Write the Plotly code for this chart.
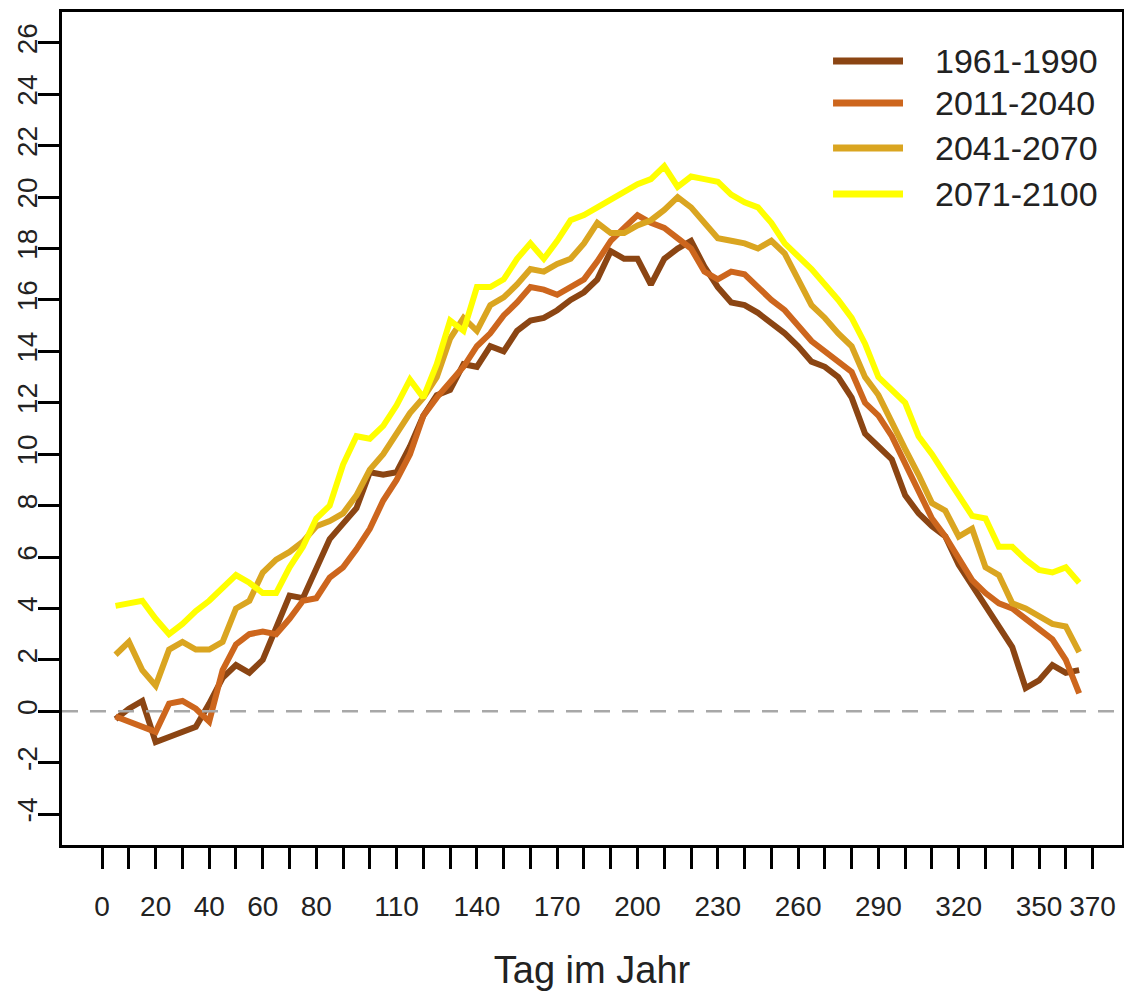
import plotly.graph_objects as go

# day of year (5-day steps)
days = list(range(5, 370, 5))

t_1961_1990 = [
    -0.3, 0.1, 0.4, -1.2, -1.0, -0.8, -0.6, 0.3, 1.3, 1.8, 1.5, 2.0, 3.3, 4.5, 4.4,
    5.6, 6.7, 7.3, 7.9, 9.3, 9.2, 9.3, 10.3, 11.5, 12.3, 12.5, 13.5, 13.4, 14.2, 14.0,
    14.8, 15.2, 15.3, 15.6, 16.0, 16.3, 16.8, 17.9, 17.6, 17.6, 16.6, 17.6, 18.0, 18.3,
    17.3, 16.5, 15.9, 15.8, 15.5, 15.1, 14.7, 14.2, 13.6, 13.4, 13.0, 12.2, 10.8, 10.3,
    9.8, 8.4, 7.7, 7.2, 6.8, 5.7, 4.9, 4.1, 3.3, 2.5, 0.9, 1.2, 1.8, 1.5, 1.6,
]
t_2011_2040 = [
    -0.2, -0.4, -0.6, -0.8, 0.3, 0.4, 0.1, -0.4, 1.6, 2.6, 3.0, 3.1, 3.0, 3.6, 4.3,
    4.4, 5.2, 5.6, 6.3, 7.1, 8.2, 9.0, 10.0, 11.5, 12.2, 12.8, 13.4, 14.2, 14.7, 15.4,
    15.9, 16.5, 16.4, 16.2, 16.5, 16.8, 17.5, 18.3, 18.8, 19.3, 19.0, 18.8, 18.4, 18.0,
    17.1, 16.8, 17.1, 17.0, 16.5, 16.0, 15.6, 15.0, 14.4, 14.0, 13.6, 13.2, 12.0, 11.5,
    10.7, 9.6, 8.5, 7.5, 6.8, 5.9, 5.1, 4.6, 4.2, 4.0, 3.6, 3.2, 2.8, 2.0, 0.7,
]
t_2041_2070 = [
    2.2, 2.7, 1.6, 1.0, 2.4, 2.7, 2.4, 2.4, 2.7, 4.0, 4.3, 5.4, 5.9, 6.2, 6.6,
    7.2, 7.4, 7.7, 8.4, 9.4, 10.0, 10.8, 11.6, 12.2, 13.0, 14.5, 15.3, 14.8, 15.8, 16.1,
    16.6, 17.2, 17.1, 17.4, 17.6, 18.2, 19.0, 18.6, 18.6, 18.9, 19.1, 19.5, 20.0, 19.6,
    19.0, 18.4, 18.3, 18.2, 18.0, 18.3, 17.8, 16.8, 15.8, 15.3, 14.7, 14.2, 13.0, 12.3,
    11.2, 10.2, 9.2, 8.1, 7.8, 6.8, 7.1, 5.6, 5.3, 4.2, 4.0, 3.7, 3.4, 3.3, 2.3,
]
t_2071_2100 = [
    4.1, 4.2, 4.3, 3.6, 3.0, 3.4, 3.9, 4.3, 4.8, 5.3, 5.0, 4.6, 4.6, 5.6, 6.4,
    7.5, 8.0, 9.6, 10.7, 10.6, 11.1, 11.9, 12.9, 12.2, 13.5, 15.2, 14.8, 16.5, 16.5, 16.8,
    17.6, 18.2, 17.6, 18.3, 19.1, 19.3, 19.6, 19.9, 20.2, 20.5, 20.7, 21.2, 20.4, 20.8,
    20.7, 20.6, 20.1, 19.8, 19.6, 19.0, 18.2, 17.7, 17.2, 16.6, 16.0, 15.3, 14.3, 13.0,
    12.5, 12.0, 10.7, 10.0, 9.2, 8.4, 7.6, 7.5, 6.4, 6.4, 5.9, 5.5, 5.4, 5.6, 5.0,
]

series = [
    ("1961-1990", t_1961_1990, "#8b4513"),
    ("2011-2040", t_2011_2040, "#cd661d"),
    ("2041-2070", t_2041_2070, "#daa520"),
    ("2071-2100", t_2071_2100, "#ffff00"),
]

x_ticks = list(range(0, 380, 10))
x_labels_shown = {0, 20, 40, 60, 80, 110, 140, 170, 200, 230, 260, 290, 320, 350, 370}
x_ticktext = [str(v) if v in x_labels_shown else "" for v in x_ticks]
y_ticks = list(range(-4, 28, 2))
y_ticktext = [str(v) for v in y_ticks]  # plain hyphen minus, like R

FONT = "Liberation Sans, Arial, sans-serif"

fig = go.Figure()

for name, vals, color in series:
    fig.add_trace(
        go.Scatter(
            x=days,
            y=vals,
            mode="lines",
            name=name,
            line={"color": color, "width": 6},
            showlegend=False,
        )
    )

# zero reference line
fig.add_hline(y=0, line_color="#a8a8a8", line_dash="16px,12px", line_width=2.5)

# legend drawn by hand so the line samples are long like the original
legend_y = [0.9412, 0.8908, 0.8367, 0.7815]
for (name, _, color), ly in zip(series, legend_y):
    fig.add_shape(
        type="line",
        xref="paper",
        yref="paper",
        x0=0.7274,
        x1=0.7934,
        y0=ly,
        y1=ly,
        line={"color": color, "width": 7},
    )
    fig.add_annotation(
        xref="paper",
        yref="paper",
        x=0.8217,
        y=ly,
        text=name,
        showarrow=False,
        xanchor="left",
        yanchor="middle",
        font={"family": FONT, "size": 34, "color": "#222222"},
    )

fig.update_layout(
    width=1124,
    height=995,
    margin={"l": 62, "r": 2, "t": 12, "b": 150, "autoexpand": False},
    paper_bgcolor="white",
    plot_bgcolor="white",
    font={"family": FONT, "color": "#222222"},
)

fig.update_xaxes(
    range=[-15, 381],
    tickvals=x_ticks,
    ticktext=x_ticktext,
    ticks="outside",
    ticklen=21,
    tickwidth=3,
    tickcolor="black",
    tickfont={"size": 28},
    ticklabelstandoff=13,
    showline=True,
    linecolor="black",
    linewidth=3,
    mirror=True,
    showgrid=False,
    zeroline=False,
    automargin=False,
    title={"text": "Tag im Jahr", "font": {"size": 38}, "standoff": 36},
)

fig.update_yaxes(
    range=[-5.2, 27.2],
    tickvals=y_ticks,
    ticktext=y_ticktext,
    ticks="outside",
    ticklen=21,
    tickwidth=3,
    tickcolor="black",
    tickangle=-90,
    tickfont={"size": 28},
    ticklabelstandoff=-10,
    showline=True,
    linecolor="black",
    linewidth=3,
    mirror=True,
    showgrid=False,
    zeroline=False,
    automargin=False,
)

# drop the default page margin so the figure fills the window exactly
fig.write_html(
    "out.html",
    config={"displayModeBar": False},
    post_script="document.body.style.margin='0';document.body.style.overflow='hidden';",
)
